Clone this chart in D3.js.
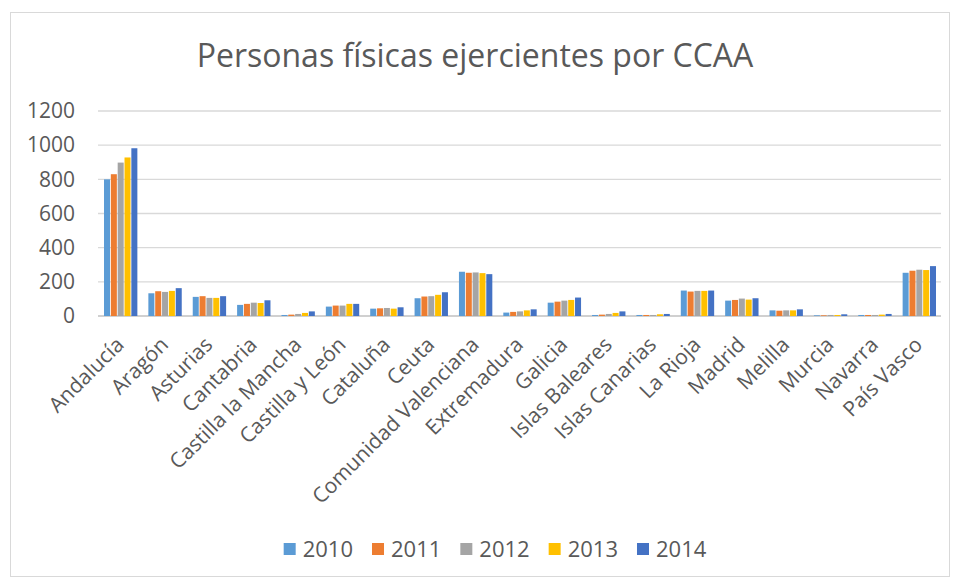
<!DOCTYPE html>
<html>
<head>
<meta charset="utf-8">
<script src="https://cdn.jsdelivr.net/npm/d3@7"></script>
<style>
  body { margin: 0; background: #fff; }
  svg text { font-family: "Open Sans", "Noto Sans", sans-serif; fill: #595959; }
</style>
</head>
<body>
<svg id="chart" width="955" height="581"></svg>
<script>
// datos
const categorias = ["Andalucía", "Aragón", "Asturias", "Cantabria", "Castilla la Mancha",
  "Castilla y León", "Cataluña", "Ceuta", "Comunidad Valenciana", "Extremadura", "Galicia",
  "Islas Baleares", "Islas Canarias", "La Rioja", "Madrid", "Melilla", "Murcia", "Navarra", "País Vasco"];
const anios = ["2010", "2011", "2012", "2013", "2014"];
const colores = ["#5B9BD5", "#ED7D31", "#A5A5A5", "#FFC000", "#4472C4"];
const v2010 = [800, 133, 112, 65, 6, 55, 43, 104, 259, 20, 78, 6, 6, 149, 90, 33, 4, 6, 253];
const v2011 = [830, 145, 116, 71, 8, 61, 45, 114, 253, 24, 84, 8, 6, 143, 94, 31, 4, 6, 265];
const v2012 = [898, 141, 106, 78, 12, 61, 47, 116, 255, 27, 90, 12, 6, 147, 102, 33, 6, 6, 271];
const v2013 = [928, 147, 106, 76, 18, 71, 43, 124, 251, 33, 94, 18, 10, 147, 96, 33, 6, 8, 269];
const v2014 = [982, 163, 116, 92, 27, 71, 51, 139, 245, 39, 108, 27, 12, 149, 104, 39, 10, 12, 292];
const series = [v2010, v2011, v2012, v2013, v2014];
const ticksY = [0, 200, 400, 600, 800, 1000, 1200];

const svg = d3.select("#chart");

// marco del grafico
svg.append("rect")
  .attr("x", 10.5).attr("y", 12.5)
  .attr("width", 939).attr("height", 564)
  .attr("fill", "#fff").attr("stroke", "#d9d9d9");

// titulo
svg.append("text")
  .attr("x", 475).attr("y", 67)
  .attr("text-anchor", "middle")
  .style("font-size", "32px")
  .text("Personas físicas ejercientes por CCAA");

const x0 = d3.scaleBand().domain(categorias).range([98, 941]);
const x1 = d3.scaleBand().domain(anios).range([6, x0.bandwidth() - 5]).paddingInner(0.12);
const y = d3.scaleLinear().domain([0, 1200]).range([316, 111]);

// lineas de cuadricula
svg.append("g")
  .selectAll("line")
  .data(ticksY)
  .join("line")
  .attr("x1", 98).attr("x2", 941)
  .attr("y1", d => y(d)).attr("y2", d => y(d))
  .attr("stroke", d => d === 0 ? "#d0d0d0" : "#d9d9d9")
  .attr("stroke-width", d => d === 0 ? 2 : 1.3);

// eje y
const ejeY = svg.append("g")
  .attr("transform", "translate(75,0)")
  .call(d3.axisLeft(y).tickValues(ticksY).tickFormat(d3.format("d")).tickSize(0).tickPadding(0));
ejeY.select(".domain").remove();
ejeY.selectAll("text").style("font-size", "21px").attr("fill", "#595959");

// barras
const grupos = svg.append("g")
  .selectAll("g")
  .data(categorias)
  .join("g")
  .attr("transform", d => `translate(${x0(d)},0)`);

grupos.selectAll("rect")
  .data((c, i) => anios.map((a, j) => ({ anio: a, valor: series[j][i], color: colores[j] })))
  .join("rect")
  .attr("x", d => x1(d.anio))
  .attr("width", x1.bandwidth())
  .attr("y", d => y(d.valor))
  .attr("height", d => y(0) - y(d.valor))
  .attr("fill", d => d.color);

// etiquetas del eje x
svg.append("g")
  .selectAll("text")
  .data(categorias)
  .join("text")
  .attr("text-anchor", "end")
  .attr("transform", d => `translate(${x0(d) + x0.bandwidth() / 2 + 5},346) rotate(-45)`)
  .style("font-size", "21px")
  .text(d => d);

// leyenda
const leyenda = svg.append("g");
const items = leyenda.selectAll("g")
  .data(anios)
  .join("g");
items.append("rect")
  .attr("width", 12).attr("height", 12)
  .attr("y", 543)
  .attr("fill", (d, i) => colores[i]);
items.append("text")
  .attr("x", 19).attr("y", 557)
  .style("font-size", "22px")
  .text(d => d);

let pos = 0;
const anchos = [];
items.each(function () {
  const w = d3.select(this).select("text").node().getComputedTextLength();
  anchos.push(pos);
  pos += 19 + w + 19;
});
const total = pos - 19;
const inicio = 495 - total / 2;
items.attr("transform", (d, i) => `translate(${inicio + anchos[i]},0)`);
</script>
</body>
</html>
